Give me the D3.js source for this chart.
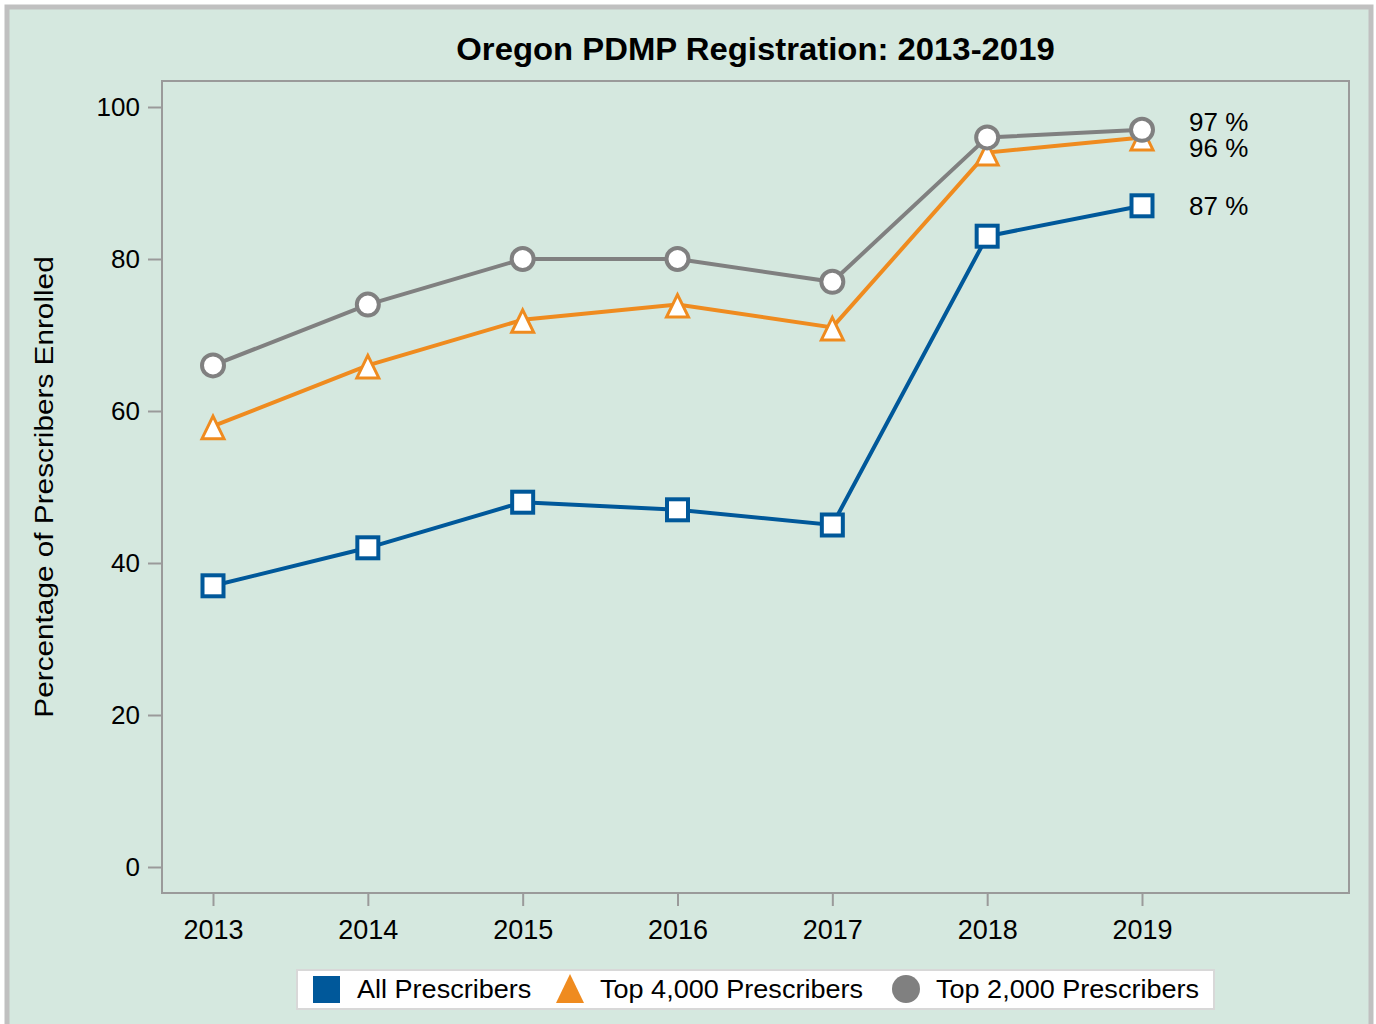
<!DOCTYPE html>
<html>
<head>
<meta charset="utf-8">
<script src="https://cdn.jsdelivr.net/npm/d3@7"></script>
<style>
  body { margin: 0; background: #fff; }
  svg text { font-family: "Liberation Sans", Arial, sans-serif; fill: #000; }
</style>
</head>
<body>
<div id="chart"></div>
<script>
// chart data
const years = [2013, 2014, 2015, 2016, 2017, 2018, 2019];
const allPrescribers = [37, 42, 48, 47, 45, 83, 87];
const top4000 = [58, 66, 72, 74, 71, 94, 96];
const top2000 = [66, 74, 80, 80, 77, 96, 97];
const yTicks = [0, 20, 40, 60, 80, 100];
const endLabels = ["97 %", "96 %", "87 %"];

const series = [
    { name: "All Prescribers", values: allPrescribers, color: "#00589a", shape: "square" },
    { name: "Top 4,000 Prescribers", values: top4000, color: "#ef8b1f", shape: "triangle" },
    { name: "Top 2,000 Prescribers", values: top2000, color: "#808080", shape: "circle" }
];

const W = 1376, H = 1024;
const frame = { left: 162, top: 81, right: 1349, bottom: 893 };

var svg = d3.select("#chart").append("svg")
    .attr("width", W)
    .attr("height", H);

// the reference font runs a little wider than Arial, so stretch some texts
function stretch(sel, factor) {
    sel.each(function () {
        var w = this.getComputedTextLength();
        d3.select(this).attr("textLength", w * factor).attr("lengthAdjust", "spacingAndGlyphs");
    });
}

// outer panel
svg.append("rect")
    .attr("x", 7).attr("y", 7)
    .attr("width", W - 12).attr("height", H + 10)
    .attr("fill", "#d5e8df")
    .attr("stroke", "#c0c0c0")
    .attr("stroke-width", 5);

var x = d3.scalePoint()
    .domain(years)
    .range([213, 1142]);

var y = d3.scaleLinear()
    .domain([0, 100])
    .range([867, 107]);

// plot frame
svg.append("rect")
    .attr("x", frame.left).attr("y", frame.top)
    .attr("width", frame.right - frame.left)
    .attr("height", frame.bottom - frame.top)
    .attr("fill", "none")
    .attr("stroke", "#9a9a9a")
    .attr("stroke-width", 2);

// axes
var yAxis = svg.append("g")
    .attr("transform", "translate(" + frame.left + ",0)")
    .call(d3.axisLeft(y).tickValues(yTicks).tickSize(14).tickPadding(8));

var xAxis = svg.append("g")
    .attr("transform", "translate(0," + frame.bottom + ")")
    .call(d3.axisBottom(x).tickSize(13).tickPadding(14).tickFormat(d3.format("d")));

[yAxis, xAxis].forEach(a => {
    a.select(".domain").remove();
    a.selectAll(".tick line").attr("stroke", "#9a9a9a").attr("stroke-width", 2);
});
yAxis.selectAll(".tick text").style("font-size", "26px");
xAxis.selectAll(".tick text").style("font-size", "27px");

// title
var title = svg.append("text")
    .attr("x", (frame.left + frame.right) / 2)
    .attr("y", 60)
    .attr("text-anchor", "middle")
    .style("font-size", "31px")
    .style("font-weight", "bold")
    .text("Oregon PDMP Registration: 2013-2019");
stretch(title, 1.06);

// y axis title
var ylab = svg.append("text")
    .attr("transform", "translate(53," + y(50) + ") rotate(-90)")
    .attr("text-anchor", "middle")
    .style("font-size", "25px")
    .text("Percentage of Prescribers Enrolled");
stretch(ylab, 1.19);

function drawMarker(sel, shape, color) {
    if (shape === "square") {
        sel.append("rect")
            .attr("x", -10.5).attr("y", -10.5)
            .attr("width", 21).attr("height", 21)
            .attr("fill", "#fff").attr("stroke", color).attr("stroke-width", 4);
    } else if (shape === "triangle") {
        sel.append("path")
            .attr("d", "M0,-10 L11,12.5 L-11,12.5 Z")
            .attr("fill", "#fff").attr("stroke", color).attr("stroke-width", 3)
            .attr("stroke-linejoin", "miter");
    } else {
        sel.append("circle")
            .attr("r", 11)
            .attr("fill", "#fff").attr("stroke", color).attr("stroke-width", 4);
    }
}

var line = d3.line()
    .x((d, i) => x(years[i]))
    .y(d => y(d));

// lines first (grey at back), then the markers
[series[2], series[1], series[0]].forEach(s => {
    svg.append("path")
        .attr("d", line(s.values))
        .attr("fill", "none")
        .attr("stroke", s.color)
        .attr("stroke-width", 4);
});
series.forEach(s => {
    s.values.forEach((v, i) => {
        var g = svg.append("g")
            .attr("transform", "translate(" + x(years[i]) + "," + y(v) + ")");
        drawMarker(g, s.shape, s.color);
    });
});

// end labels
var lastVals = [top2000[6], top4000[6], allPrescribers[6]];
var labelY = [y(lastVals[0]) - 8, y(lastVals[1]) + 10, y(lastVals[2])];
endLabels.forEach((t, i) => {
    svg.append("text")
        .attr("x", 1189)
        .attr("y", labelY[i])
        .attr("dy", "0.35em")
        .style("font-size", "26px")
        .text(t);
});

// legend
var legend = svg.append("g");
legend.append("rect")
    .attr("x", 297).attr("y", 970)
    .attr("width", 917).attr("height", 39)
    .attr("fill", "#fff")
    .attr("stroke", "#d8d8d8")
    .attr("stroke-width", 2);

var legendX = [313, 556, 892];
series.forEach((s, i) => {
    var g = legend.append("g").attr("transform", "translate(" + legendX[i] + ",989)");
    if (s.shape === "square") {
        g.append("rect").attr("x", 0).attr("y", -13).attr("width", 27).attr("height", 27).attr("fill", s.color);
    } else if (s.shape === "triangle") {
        g.append("path").attr("d", "M14,-15 L28,14 L0,14 Z").attr("fill", s.color);
    } else {
        g.append("circle").attr("cx", 14).attr("cy", 0).attr("r", 14).attr("fill", s.color);
    }
    var t = g.append("text")
        .attr("x", 44)
        .attr("dy", "0.35em")
        .style("font-size", "26px")
        .text(s.name);
    stretch(t, 1.04);
});
</script>
</body>
</html>
